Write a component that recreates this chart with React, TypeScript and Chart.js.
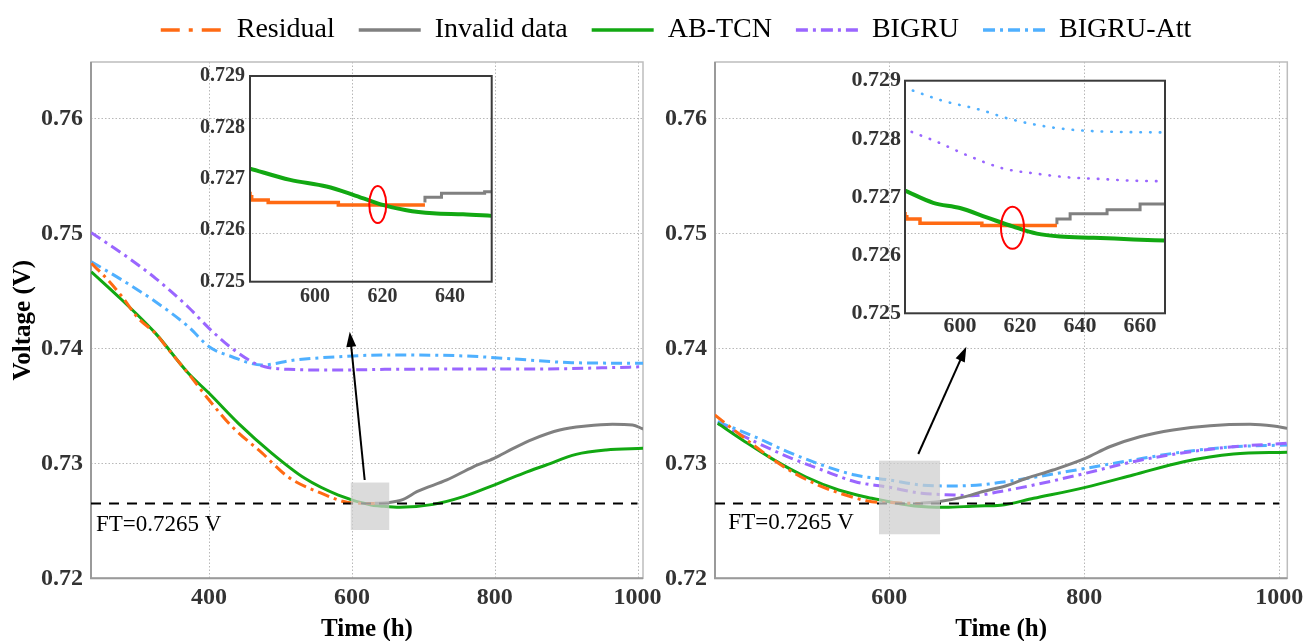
import React, { useEffect, useRef } from "react";
import { Chart, registerables } from "chart.js";
Chart.register(...registerables);

const FONT = "'Liberation Serif', 'Times New Roman', serif";

// ---------- series meta ----------
const SERIES_NAMES = ["Residual", "Invalid data", "AB-TCN", "BIGRU", "BIGRU-Att"];
const SERIES_COLORS = ["#ff6a13", "#808080", "#12a812", "#9a66ff", "#4fb0ff"];
const LINE_DASH = [[12, 5, 3, 5], [], [], [11, 5, 3, 5], [11, 5, 3, 5]];
const LEGEND_DASH = [[19, 9, 4, 9], [], [], [12, 5, 3, 5], [12, 5, 3, 5]];

// ---------- tick values ----------
const LEFT_X_TICKS = [400, 600, 800, 1000];
const RIGHT_X_TICKS = [600, 800, 1000];
const MAIN_Y_TICKS = [0.72, 0.73, 0.74, 0.75, 0.76];
const LEFT_INSET_X_TICKS = [600, 620, 640];
const RIGHT_INSET_X_TICKS = [600, 620, 640, 660];
const INSET_Y_TICKS = [0.725, 0.726, 0.727, 0.728, 0.729];

// ---------- failure threshold ----------
const FT_VALUE = 0.7265;
const FT_TEXT = "FT=0.7265 V";

// ---------- left panel (main) ----------
const L_RES_T = [235, 259, 278, 301, 325, 343, 371, 400, 432, 474, 511, 557, 595, 632];
const L_RES_V = [0.7474, 0.7459, 0.7445, 0.7426, 0.7413, 0.7399, 0.7378, 0.7355, 0.7332, 0.7309, 0.7288, 0.7274, 0.7266, 0.7265];
const L_INV_T = [632, 649, 672, 691, 733, 770, 799, 826, 853, 891, 928, 965, 993, 1008];
const L_INV_V = [0.72652, 0.72657, 0.72687, 0.72753, 0.72855, 0.7297, 0.73043, 0.7313, 0.73209, 0.7329, 0.73324, 0.73339, 0.73333, 0.73298];
const L_TCN_T = [235, 278, 325, 371, 400, 441, 488, 534, 581, 627, 639, 667, 714, 756, 799, 840, 872, 914, 956, 1008];
const L_TCN_V = [0.74666, 0.7442, 0.7413, 0.73783, 0.73609, 0.73348, 0.73087, 0.7287, 0.72724, 0.72637, 0.72629, 0.72617, 0.72643, 0.7271, 0.72811, 0.72913, 0.72985, 0.73078, 0.73116, 0.7313];
const L_GRU_T = [235, 278, 325, 371, 400, 432, 464, 478, 511, 581, 646, 750, 850, 950, 1008];
const L_GRU_V = [0.75005, 0.74826, 0.74609, 0.74357, 0.74174, 0.74, 0.7387, 0.7384, 0.73817, 0.73811, 0.73817, 0.7382, 0.7382, 0.7383, 0.7384];
const L_ATT_T = [235, 278, 325, 371, 400, 432, 474, 520, 581, 646, 670, 760, 848, 908, 1008];
const L_ATT_V = [0.74753, 0.74594, 0.74405, 0.74188, 0.74014, 0.73927, 0.73855, 0.73898, 0.73927, 0.73942, 0.73942, 0.73933, 0.73898, 0.73875, 0.7387];

// ---------- right panel (main) ----------
const R_RES_T = [421, 445, 472, 500, 527, 555, 582, 596, 632];
const R_RES_V = [0.7342, 0.73261, 0.73087, 0.72927, 0.72811, 0.72724, 0.72666, 0.7266, 0.7265];
const R_INV_T = [632, 650, 678, 695, 719, 741, 768, 801, 826, 857, 891, 929, 970, 994, 1008];
const R_INV_V = [0.72653, 0.72666, 0.7271, 0.72753, 0.72803, 0.7287, 0.72942, 0.73043, 0.73144, 0.73231, 0.7329, 0.73327, 0.73339, 0.73324, 0.73304];
const R_TCN_T = [424, 452, 479, 514, 548, 582, 600, 626, 657, 691, 714, 748, 801, 850, 902, 953, 1008];
const R_TCN_V = [0.73348, 0.73188, 0.73043, 0.72883, 0.72768, 0.72696, 0.72666, 0.72629, 0.72617, 0.72629, 0.72635, 0.72696, 0.72791, 0.72898, 0.73014, 0.73081, 0.73096];
const R_GRU_T = [424, 462, 496, 531, 565, 600, 633, 667, 685, 714, 748, 801, 850, 902, 953, 1008];
const R_GRU_V = [0.73348, 0.73188, 0.73057, 0.72942, 0.7284, 0.72791, 0.7274, 0.72724, 0.72718, 0.72755, 0.72811, 0.72913, 0.73014, 0.73092, 0.73144, 0.73174];
const R_ATT_T = [424, 462, 496, 531, 565, 600, 633, 667, 702, 719, 748, 801, 850, 902, 953, 1008];
const R_ATT_V = [0.73362, 0.73231, 0.731, 0.72985, 0.72898, 0.72855, 0.72811, 0.72803, 0.7282, 0.7284, 0.72878, 0.72956, 0.73029, 0.731, 0.73144, 0.73159];

// ---------- left inset ----------
const LI_RES_T = [580.7, 581.2, 586.1, 606.9, 621.7, 632.6];
const LI_RES_V = [0.72675, 0.72665, 0.72659, 0.72654, 0.72649, 0.72649];
const LI_INV_T = [632.6, 637.5, 650.3, 652.4];
const LI_INV_V = [0.72654, 0.72664, 0.72672, 0.72675];
const LI_TCN_T = [580.7, 592.6, 603.4, 611.3, 619.2, 627.1, 635, 643.9, 652.4];
const LI_TCN_V = [0.7272, 0.72698, 0.72685, 0.72669, 0.72651, 0.72639, 0.72633, 0.72631, 0.72628];

// ---------- right inset ----------
const RI_RES_T = [581.7, 582.3, 586.7, 607.3, 621.7, 632.3];
const RI_RES_V = [0.72674, 0.72666, 0.72662, 0.72655, 0.72651, 0.72651];
const RI_INV_T = [632.3, 636.7, 649, 660, 665, 668.3];
const RI_INV_V = [0.72653, 0.72662, 0.72671, 0.72678, 0.72688, 0.72688];
const RI_TCN_T = [581.7, 591.1, 600, 608.9, 617.8, 625.6, 633.4, 644.5, 657.8, 668.3];
const RI_TCN_V = [0.72711, 0.7269, 0.72681, 0.72665, 0.72649, 0.72637, 0.72632, 0.7263, 0.72627, 0.72625];
const RI_GRU_T = [583.9, 592.3, 602.3, 614.5, 625.6, 635.6, 646.7, 657.8, 668.3];
const RI_GRU_V = [0.72812, 0.72795, 0.72772, 0.72749, 0.7274, 0.72734, 0.72731, 0.72728, 0.72727];
const RI_ATT_T = [584.3, 593.9, 606.7, 616.7, 628.9, 638.9, 652.3, 668.3];
const RI_ATT_V = [0.72883, 0.72866, 0.7285, 0.72834, 0.72821, 0.72815, 0.72812, 0.72811];

// ---------- annotations (data coordinates) ----------
const LEFT_ZOOM_BOX = [598.4, 652.3, 0.7242, 0.72833];
const RIGHT_ZOOM_BOX = [589.4, 652, 0.72383, 0.73023];
const LEFT_ARROW = [617.9, 0.72855, 597, 0.74144];
const RIGHT_ARROW = [629.7, 0.73081, 679, 0.74014];
const LEFT_FT_POS = [241.6, 0.72463];
const RIGHT_FT_POS = [434.9, 0.72483];
const LEFT_RING = [618.6, 0.7265];
const RIGHT_RING = [617.5, 0.72647];

const pts = (t: number[], v: number[]) => t.map((x, i) => ({ x, y: v[i] }));

function mainDatasets(series: [number[], number[]][], ftRange: number[]) {
  const ds: any[] = series.map(([t, v], i) => ({
    label: SERIES_NAMES[i],
    data: pts(t, v),
    borderColor: SERIES_COLORS[i],
    backgroundColor: SERIES_COLORS[i],
    borderWidth: 3,
    borderDash: LINE_DASH[i],
    pointRadius: 0,
    fill: false,
    cubicInterpolationMode: "monotone",
    order: i + 1,
  }));
  ds.push({
    label: "FT",
    data: [
      { x: ftRange[0], y: FT_VALUE },
      { x: ftRange[1], y: FT_VALUE },
    ],
    borderColor: "#000",
    borderWidth: 2,
    borderDash: [10, 8],
    pointRadius: 0,
    fill: false,
    order: 0,
  });
  return ds;
}

function mainPlugin(p: { xTicks: number[]; yTicks: number[]; box: number[]; arrow: number[]; ftPos: number[] }) {
  return {
    id: "mainDecor",
    beforeDatasetsDraw(chart: any) {
      const { ctx, chartArea: a, scales } = chart;
      const xs = scales.x, ys = scales.y;
      ctx.save();
      ctx.strokeStyle = "#b8b8b8";
      ctx.lineWidth = 1;
      ctx.setLineDash([1.5, 2]);
      ctx.beginPath();
      p.xTicks.forEach((v) => {
        const px = Math.round(xs.getPixelForValue(v)) + 0.5;
        ctx.moveTo(px, a.top);
        ctx.lineTo(px, a.bottom);
      });
      p.yTicks.forEach((v) => {
        const py = Math.round(ys.getPixelForValue(v)) + 0.5;
        ctx.moveTo(a.left, py);
        ctx.lineTo(a.right, py);
      });
      ctx.stroke();
      ctx.setLineDash([]);
      ctx.strokeStyle = "#bdbdbd";
      ctx.lineWidth = 1.5;
      ctx.strokeRect(a.left, a.top, a.right - a.left, a.bottom - a.top);
      ctx.strokeStyle = "#9a9a9a";
      ctx.lineWidth = 2;
      ctx.beginPath();
      ctx.moveTo(a.left, a.top);
      ctx.lineTo(a.left, a.bottom);
      ctx.lineTo(a.right, a.bottom);
      ctx.stroke();
      ctx.restore();
    },
    afterDatasetsDraw(chart: any) {
      const { ctx, scales } = chart;
      const xs = scales.x, ys = scales.y;
      ctx.save();
      // zoom box
      const bx0 = xs.getPixelForValue(p.box[0]);
      const bx1 = xs.getPixelForValue(p.box[1]);
      const by0 = ys.getPixelForValue(p.box[3]);
      const by1 = ys.getPixelForValue(p.box[2]);
      ctx.fillStyle = "rgba(205,205,205,0.72)";
      ctx.fillRect(bx0, by0, bx1 - bx0, by1 - by0);
      // FT label
      ctx.fillStyle = "#000";
      ctx.font = `23px ${FONT}`;
      ctx.textAlign = "left";
      ctx.textBaseline = "middle";
      ctx.fillText(FT_TEXT, xs.getPixelForValue(p.ftPos[0]), ys.getPixelForValue(p.ftPos[1]));
      // arrow
      const tx = xs.getPixelForValue(p.arrow[0]);
      const ty = ys.getPixelForValue(p.arrow[1]);
      const hx = xs.getPixelForValue(p.arrow[2]);
      const hy = ys.getPixelForValue(p.arrow[3]);
      const ang = Math.atan2(hy - ty, hx - tx);
      const L = 15, W = 5;
      const c = Math.cos(ang), s = Math.sin(ang);
      ctx.strokeStyle = "#000";
      ctx.lineWidth = 2;
      ctx.beginPath();
      ctx.moveTo(tx, ty);
      ctx.lineTo(hx - L * 0.8 * c, hy - L * 0.8 * s);
      ctx.stroke();
      ctx.beginPath();
      ctx.moveTo(hx, hy);
      ctx.lineTo(hx - L * c + W * s, hy - L * s - W * c);
      ctx.lineTo(hx - L * c - W * s, hy - L * s + W * c);
      ctx.closePath();
      ctx.fill();
      ctx.restore();
    },
  };
}

function insetPlugin(ring: number[], rx: number, ry: number) {
  return {
    id: "insetDecor",
    afterDatasetsDraw(chart: any) {
      const { ctx, chartArea: a, scales } = chart;
      ctx.save();
      ctx.strokeStyle = "#3a3a3a";
      ctx.lineWidth = 2;
      ctx.strokeRect(a.left, a.top, a.right - a.left, a.bottom - a.top);
      ctx.strokeStyle = "#ff0000";
      ctx.lineWidth = 2;
      ctx.beginPath();
      ctx.ellipse(scales.x.getPixelForValue(ring[0]), scales.y.getPixelForValue(ring[1]), rx, ry, 0, 0, Math.PI * 2);
      ctx.stroke();
      ctx.restore();
    },
  };
}

function setTicks(vals: number[]) {
  return (scale: any) => {
    scale.ticks = vals.map((v) => ({ value: v }));
  };
}

function mainConfig(opts: {
  series: [number[], number[]][];
  xMin: number;
  xMax: number;
  xTicks: number[];
  ftRange: number[];
  yTitle: boolean;
  yWidth: number;
  padRight: number;
  box: number[];
  arrow: number[];
  ftPos: number[];
}): any {
  return {
    type: "line",
    data: { datasets: mainDatasets(opts.series, opts.ftRange) },
    options: {
      responsive: false,
      animation: false,
      events: [],
      layout: { padding: { top: 22, right: opts.padRight, left: 0, bottom: 0 } },
      plugins: { legend: { display: false }, tooltip: { enabled: false } },
      scales: {
        x: {
          type: "linear",
          min: opts.xMin,
          max: opts.xMax,
          afterBuildTicks: setTicks(opts.xTicks),
          afterFit: (s: any) => {
            s.height = 62.7;
          },
          grid: { display: false, drawTicks: false },
          border: { display: false },
          ticks: {
            padding: 7,
            color: "#333",
            font: { family: FONT, size: 24, weight: "bold", lineHeight: 1 },
            callback: (v: number) => String(v),
          },
          title: {
            display: true,
            text: "Time (h)",
            color: "#000",
            padding: { top: 0, bottom: 0 },
            font: { family: FONT, size: 25, weight: "bold", lineHeight: 0.9 },
          },
        },
        y: {
          type: "linear",
          min: 0.72,
          max: 0.7649,
          afterBuildTicks: setTicks(MAIN_Y_TICKS),
          afterFit: (s: any) => {
            s.width = opts.yWidth;
          },
          grid: { display: false, drawTicks: false },
          border: { display: false },
          ticks: {
            padding: 8,
            color: "#333",
            font: { family: FONT, size: 24, weight: "bold", lineHeight: 1 },
            callback: (v: number) => v.toFixed(2),
          },
          title: {
            display: opts.yTitle,
            text: "Voltage (V)",
            color: "#000",
            padding: { top: 11, bottom: 0 },
            font: { family: FONT, size: 25, weight: "bold", lineHeight: 1 },
          },
        },
      },
    },
    plugins: [mainPlugin({ xTicks: opts.xTicks, yTicks: MAIN_Y_TICKS, box: opts.box, arrow: opts.arrow, ftPos: opts.ftPos })],
  };
}

function insetConfig(opts: {
  datasets: any[];
  xMin: number;
  xMax: number;
  xTicks: number[];
  yWidth: number;
  padTop: number;
  padRight: number;
  xHeight: number;
  fontSize: number;
  yPad: number;
  xPad: number;
  ring: number[];
  rx: number;
  ry: number;
}): any {
  return {
    type: "line",
    data: { datasets: opts.datasets },
    options: {
      responsive: false,
      animation: false,
      events: [],
      layout: { padding: { top: opts.padTop, right: opts.padRight, left: 0, bottom: 0 } },
      plugins: { legend: { display: false }, tooltip: { enabled: false } },
      scales: {
        x: {
          type: "linear",
          min: opts.xMin,
          max: opts.xMax,
          afterBuildTicks: setTicks(opts.xTicks),
          afterFit: (s: any) => {
            s.height = opts.xHeight;
          },
          grid: { display: false, drawTicks: false },
          border: { display: false },
          ticks: {
            padding: opts.xPad,
            color: "#333",
            font: { family: FONT, size: opts.fontSize, weight: "bold", lineHeight: 1 },
            callback: (v: number) => String(v),
          },
        },
        y: {
          type: "linear",
          min: 0.725,
          max: 0.729,
          afterBuildTicks: setTicks(INSET_Y_TICKS),
          afterFit: (s: any) => {
            s.width = opts.yWidth;
          },
          grid: { display: false, drawTicks: false },
          border: { display: false },
          ticks: {
            padding: opts.yPad,
            color: "#333",
            font: { family: FONT, size: opts.fontSize, weight: "bold", lineHeight: 1 },
            callback: (v: number) => v.toFixed(3),
          },
        },
      },
    },
    plugins: [insetPlugin(opts.ring, opts.rx, opts.ry)],
  };
}

function insetLine(idx: number, t: number[], v: number[], kind: "step" | "smooth" | "dot", width: number, order: number) {
  const base: any = {
    label: SERIES_NAMES[idx],
    data: pts(t, v),
    borderColor: SERIES_COLORS[idx],
    backgroundColor: SERIES_COLORS[idx],
    borderWidth: width,
    pointRadius: 0,
    fill: false,
    order,
  };
  if (kind === "step") base.stepped = "after";
  if (kind === "smooth") base.cubicInterpolationMode = "monotone";
  if (kind === "dot") {
    base.cubicInterpolationMode = "monotone";
    base.borderDash = [0.5, 9.2];
    base.borderCapStyle = "round";
  }
  return base;
}

function legendConfig(): any {
  return {
    type: "line",
    data: {
      datasets: SERIES_NAMES.map((name, i) => ({
        label: name,
        data: [],
        borderColor: SERIES_COLORS[i],
        backgroundColor: SERIES_COLORS[i],
        borderWidth: 3.5,
        borderDash: LEGEND_DASH[i],
      })),
    },
    options: {
      responsive: false,
      animation: false,
      events: [],
      layout: { padding: { left: 40, top: 0, right: 0, bottom: 0 } },
      scales: { x: { display: false }, y: { display: false } },
      plugins: {
        tooltip: { enabled: false },
        legend: {
          display: true,
          position: "top",
          labels: {
            usePointStyle: true,
            pointStyle: "line",
            pointStyleWidth: 62,
            padding: 24,
            color: "#000",
            font: { family: FONT, size: 28, lineHeight: 1 },
            generateLabels: (chart: any) =>
              SERIES_NAMES.map((name, i) => ({
                text: name,
                datasetIndex: i,
                fillStyle: SERIES_COLORS[i],
                strokeStyle: SERIES_COLORS[i],
                lineWidth: 3.5,
                lineDash: LEGEND_DASH[i],
                lineCap: "butt",
                pointStyle: "line",
                fontColor: "#000",
                hidden: false,
              })),
          },
        },
      },
    },
  };
}

function ChartCanvas(props: { left: number; top: number; width: number; height: number; make: () => any }) {
  const ref = useRef<HTMLCanvasElement>(null);
  useEffect(() => {
    const chart = new Chart(ref.current as HTMLCanvasElement, props.make());
    return () => chart.destroy();
  }, []);
  return (
    <canvas
      ref={ref}
      width={props.width}
      height={props.height}
      style={{ position: "absolute", left: props.left, top: props.top, width: props.width, height: props.height }}
    />
  );
}

export default function App() {
  return (
    <div style={{ position: "fixed", left: 0, top: 0, width: 1312, height: 641, background: "#fff", overflow: "hidden" }}>
      <ChartCanvas left={0} top={-8} width={1312} height={170} make={legendConfig} />
      <ChartCanvas
        left={0}
        top={40}
        width={680}
        height={601}
        make={() =>
          mainConfig({
            series: [
              [L_RES_T, L_RES_V],
              [L_INV_T, L_INV_V],
              [L_TCN_T, L_TCN_V],
              [L_GRU_T, L_GRU_V],
              [L_ATT_T, L_ATT_V],
            ],
            xMin: 234.6,
            xMax: 1007.7,
            xTicks: LEFT_X_TICKS,
            ftRange: [234.6, 1000],
            yTitle: true,
            yWidth: 91,
            padRight: 37,
            box: LEFT_ZOOM_BOX,
            arrow: LEFT_ARROW,
            ftPos: LEFT_FT_POS,
          })
        }
      />
      <ChartCanvas
        left={655}
        top={40}
        width={657}
        height={601}
        make={() =>
          mainConfig({
            series: [
              [R_RES_T, R_RES_V],
              [R_INV_T, R_INV_V],
              [R_TCN_T, R_TCN_V],
              [R_GRU_T, R_GRU_V],
              [R_ATT_T, R_ATT_V],
            ],
            xMin: 421.2,
            xMax: 1008.2,
            xTicks: RIGHT_X_TICKS,
            ftRange: [421.2, 1000],
            yTitle: false,
            yWidth: 60,
            padRight: 24.7,
            box: RIGHT_ZOOM_BOX,
            arrow: RIGHT_ARROW,
            ftPos: RIGHT_FT_POS,
          })
        }
      />
      <ChartCanvas
        left={150}
        top={50}
        width={360}
        height={270}
        make={() =>
          insetConfig({
            datasets: [
              insetLine(0, LI_RES_T, LI_RES_V, "step", 3.5, 1),
              insetLine(1, LI_INV_T, LI_INV_V, "step", 3, 2),
              insetLine(2, LI_TCN_T, LI_TCN_V, "smooth", 4, 0),
            ],
            xMin: 580.7,
            xMax: 652.4,
            xTicks: LEFT_INSET_X_TICKS,
            yWidth: 100,
            padTop: 26,
            padRight: 18.3,
            xHeight: 38.3,
            fontSize: 20,
            yPad: 5,
            xPad: 5.6,
            ring: LEFT_RING,
            rx: 8.5,
            ry: 18.5,
          })
        }
      />
      <ChartCanvas
        left={795}
        top={55}
        width={390}
        height={290}
        make={() =>
          insetConfig({
            datasets: [
              insetLine(0, RI_RES_T, RI_RES_V, "step", 3.5, 1),
              insetLine(1, RI_INV_T, RI_INV_V, "step", 3, 2),
              insetLine(2, RI_TCN_T, RI_TCN_V, "smooth", 4, 0),
              insetLine(3, RI_GRU_T, RI_GRU_V, "dot", 2.6, 3),
              insetLine(4, RI_ATT_T, RI_ATT_V, "dot", 2.6, 4),
            ],
            xMin: 581.7,
            xMax: 668.3,
            xTicks: RIGHT_INSET_X_TICKS,
            yWidth: 110,
            padTop: 25.7,
            padRight: 20,
            xHeight: 31.7,
            fontSize: 22,
            yPad: 4,
            xPad: 2.4,
            ring: RIGHT_RING,
            rx: 11.5,
            ry: 21,
          })
        }
      />
    </div>
  );
}
